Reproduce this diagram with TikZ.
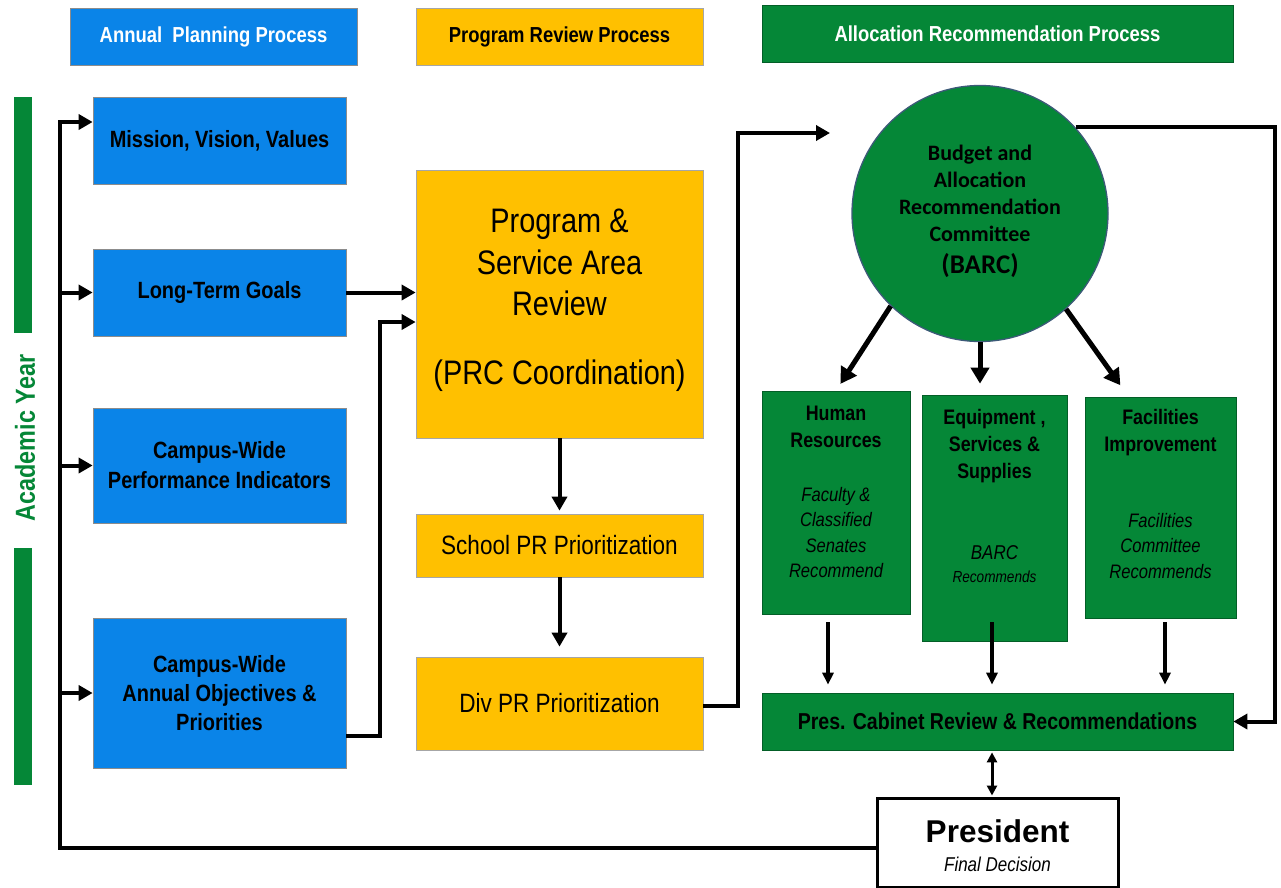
\documentclass[tikz,border=0pt]{standalone}
\usepackage{fontspec}
\setmainfont{Liberation Sans}[FakeStretch=0.85]
\newfontfamily\widefont{Liberation Sans}
\newfontfamily\carlfont{Carlito}
\usetikzlibrary{arrows.meta,calc}
\definecolor{cblue}{RGB}{10,132,232}
\definecolor{cyel}{RGB}{255,192,0}
\definecolor{cgreen}{RGB}{5,135,55}
\definecolor{cedge}{RGB}{60,90,120}
\newcommand\myfs[2]{\fontsize{#1}{#2}\selectfont}
\begin{document}
\begin{tikzpicture}[x=1pt,y=-1pt,
  bx/.style={draw=black!45,line width=0.7pt,inner sep=0pt,align=center},
  bluebox/.style={bx,fill=cblue},
  yelbox/.style={bx,fill=cyel,draw=black!35},
  grnbox/.style={bx,fill=cgreen,draw=cgreen!70!black},
  txt/.style={inner sep=0pt,align=center},
  conn/.style={line width=4pt},
  arr/.style={conn,-{Triangle[length=14pt,width=15pt]}},
  arrb/.style={line width=5pt,-{Triangle[length=16pt,width=18pt]}},
  arrt/.style={line width=3.2pt,-{Triangle[length=12pt,width=11pt]}},
  darr/.style={line width=3pt,{Triangle[length=10pt,width=10pt]}-{Triangle[length=10pt,width=10pt]}}
]
\useasboundingbox (0,0) rectangle (1281,887);
\fill[white] (0,0) rectangle (1281,887);

% headers
\node[bluebox,minimum width=287pt,minimum height=57pt,text=white,font={\myfs{21.7}{25}\bfseries}] (h1) at (213.5,36.5)
  {Annual\ \ Planning Process};
\node[yelbox,minimum width=287pt,minimum height=57pt,font={\myfs{21.7}{25}\bfseries}] (h2) at (559.5,36.5)
  {Program Review Process};
\node[grnbox,minimum width=471pt,minimum height=57pt,text=white,font={\myfs{21.7}{25}\bfseries}] (h3) at (997.5,33.5)
  {Allocation Recommendation Process};

% academic year bar
\node[fill=cgreen,inner sep=0pt,minimum width=18pt,minimum height=236pt] (bar1) at (23,215) {};
\node[fill=cgreen,inner sep=0pt,minimum width=18pt,minimum height=237pt] (bar2) at (23,666.5) {};
\node[txt,rotate=90,text=cgreen,font={\myfs{27.5}{30}\bfseries}] (ay) at (25,438) {Academic Year};

% blue boxes
\node[bluebox,minimum width=253pt,minimum height=87pt,font={\myfs{23.5}{29}\bfseries}] (mvv) at (219.5,140.5)
  {Mission, Vision, Values};
\node[bluebox,minimum width=253pt,minimum height=87pt,font={\myfs{23.5}{29}\bfseries}] (ltg) at (219.5,292.5)
  {Long-Term Goals};
\node[bluebox,minimum width=253pt,minimum height=115pt,font={\myfs{23.5}{30}\bfseries}] (cwpi) at (219.5,465.5)
  {Campus-Wide\\ Performance Indicators};
\node[bluebox,minimum width=253pt,minimum height=150pt,font={\myfs{23.5}{29}\bfseries}] (cwao) at (219.5,693)
  {Campus-Wide\\ Annual Objectives \&\\ Priorities};

% yellow boxes
\node[yelbox,minimum width=287pt,minimum height=268pt] (psar) at (559.5,304) {};
\node[txt,font={\myfs{34}{41.5}}] (psart) at (559.5,300)
  {Program \&\\ Service Area\\ Review\\[27pt] (PRC Coordination)};
\node[yelbox,minimum width=287pt,minimum height=63pt,font={\myfs{26.5}{30}}] (spr) at (559.5,545.5)
  {School PR Prioritization};
\node[yelbox,minimum width=287pt,minimum height=93pt,font={\myfs{26.5}{30}}] (dpr) at (559.5,703.5)
  {Div PR Prioritization};

% BARC circle
\node[circle,fill=cgreen,draw=cedge,line width=1.3pt,minimum size=256pt,inner sep=0pt] (barc) at (980,213.5) {};
\node[txt,font={\carlfont\myfs{22}{27}\bfseries}] (barct) at (980,211)
  {Budget and\\ Allocation\\ Recommendation\\ Committee\\[5pt] {\myfs{27}{30}(BARC)}};

% green boxes
\node[grnbox,minimum width=148pt,minimum height=223pt] (hr) at (836,502.5) {};
\node[grnbox,minimum width=145pt,minimum height=246pt] (ess) at (994.5,518) {};
\node[grnbox,minimum width=151pt,minimum height=221pt] (fi) at (1160.5,507.5) {};
\node[txt,anchor=north,font={\myfs{21}{27}\bfseries}] (hrh) at (836,406) {Human\\ Resources};
\node[txt,anchor=north,font={\myfs{19.5}{25.5}\itshape}] (hri) at (836,487) {Faculty \&\\ Classified\\ Senates\\ Recommend};
\node[txt,anchor=north,font={\myfs{21}{27}\bfseries}] (essh) at (994.5,409) {Equipment ,\\ Services \&\\ Supplies};
\node[txt,anchor=north,font={\myfs{20}{23}\itshape}] (essi) at (994.5,545) {BARC\\ {\myfs{16}{20}Recommends}};
\node[txt,anchor=north,font={\myfs{21}{27}\bfseries}] (fih) at (1160.5,409) {Facilities\\ Improvement};
\node[txt,anchor=north,font={\myfs{19.5}{25.5}\itshape}] (fii) at (1160.5,513) {Facilities\\ Committee\\ Recommends};

\node[grnbox,minimum width=471pt,minimum height=57pt,font={\myfs{23}{25}\bfseries}] (pcr) at (997.5,721.5)
  {Pres. Cabinet Review \& Recommendations};

% president
\node[draw=black,line width=3pt,fill=white,minimum width=241pt,minimum height=89pt,inner sep=0pt,align=center] (pres) at (997.5,842.5) {};
\node[txt,font={\myfs{20}{29}\itshape}] (prest) at (997.5,846)
  {{\widefont\myfs{31.5}{32}\upshape\bfseries President}\\ Final Decision};

% connectors: left loop
\coordinate (LB) at (60,848);
\coordinate (LT) at (60,122);
\draw[arr] ([yshift=-5.5pt]pres.west) -- (LB) -- (LT) -- (LT -| mvv.west);
\draw[arr] (LT |- ltg.west) -- (ltg.west);
\draw[arr] (LT |- cwpi.west) -- (cwpi.west);
\draw[arr] (LT |- cwao.west) -- (cwao.west);

% to program review
\draw[arr] (ltg.east) -- (ltg.east -| psar.west);
\draw[arr] ([yshift=-43pt]cwao.east) -- ++(34,0) |- ([yshift=-18pt]psar.west);
\draw[arr,shorten >=3pt] (psar.south) -- (spr.north);
\draw[arr,shorten >=10pt] (spr.south) -- (dpr.north);

% to BARC
\coordinate (BI) at (830,133);
\draw[arr] ([yshift=-2.5pt]dpr.east) -- ++(35,0) |- (BI);
\coordinate (RT) at (1275,128);
\draw[arr] (barc.42) -- (barc.42 -| RT) -- (RT |- pcr.east) -- (pcr.east);

% BARC to categories
\draw[arrb,shorten >=8pt] (barc.226) -- (hr.north);
\draw[arrb,shorten >=11pt] (barc.south) -- (barc.south |- ess.north);
\draw[arrb,shorten >=14pt] (barc.312) -- ([xshift=-32pt]fi.north);

% categories to cabinet
\draw[arrt,shorten >=8pt] ([xshift=-8pt,yshift=-8pt]hr.south) -- ([xshift=-8pt]hr.south |- pcr.north);
\draw[arrt,shorten >=8pt] ([xshift=-2.5pt,yshift=19pt]ess.south) -- ([xshift=-2.5pt]ess.south |- pcr.north);
\draw[arrt,shorten >=8pt] ([xshift=4.5pt,yshift=-4pt]fi.south) -- ([xshift=4.5pt]fi.south |- pcr.north);

% cabinet <-> president
\draw[darr,shorten <=2pt,shorten >=1pt] ([xshift=-5.5pt]pcr.south) -- ([xshift=-5.5pt]pres.north);
\end{tikzpicture}
\end{document}
